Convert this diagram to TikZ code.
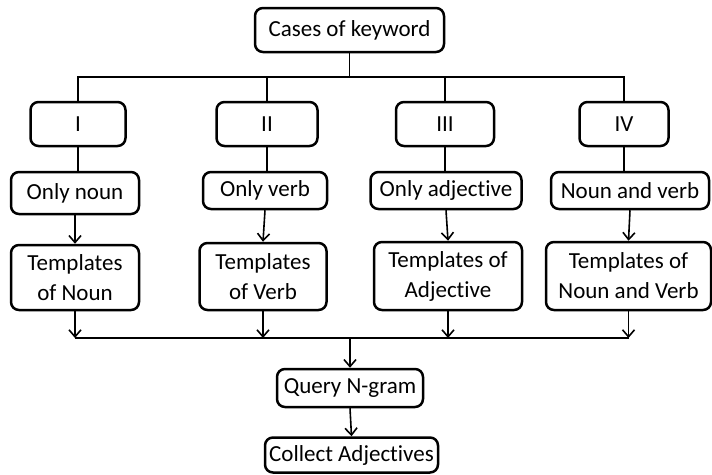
\documentclass[tikz,border=0pt]{standalone}
\usepackage{fontspec}
\setmainfont{Carlito}[Ligatures=NoCommon]
\usetikzlibrary{arrows.meta}
\begin{document}
\begin{tikzpicture}[x=1pt,y=-1pt,
  box/.style={draw, rounded corners=8pt, line width=2.5pt, inner sep=0pt, align=center,
    font=\fontsize{23}{30}\selectfont},
  conn/.style={line width=1.6pt},
  arr/.style={conn, -{Straight Barb[length=7pt,width=12pt]}}]
\useasboundingbox[fill=white] (0,0) rectangle (712,474);

\node[box, minimum width=189pt, minimum height=44pt] (top) at (349.5,30) {Cases of keyword};

\node[box, minimum width=95pt, minimum height=44pt] (r1) at (78,124) {I};
\node[box, minimum width=101pt, minimum height=44pt] (r2) at (267,124) {II};
\node[box, minimum width=98pt, minimum height=44pt] (r3) at (445,124) {III};
\node[box, minimum width=89pt, minimum height=44pt] (r4) at (624,124) {IV};

\node[box, minimum width=128pt, minimum height=42pt] (o1) at (75,193) {Only noun};
\node[box, minimum width=124pt, minimum height=37pt] (o2) at (265,190.5) {Only verb};
\node[box, minimum width=151pt, minimum height=37pt] (o3) at (446,190.5) {Only adjective};
\node[box, minimum width=158pt, minimum height=37pt] (o4) at (630,190.5) {Noun and verb};

\node[box, minimum width=128pt, minimum height=65pt] (t1) at (75,277.5) {Templates\\of Noun};
\node[box, minimum width=127pt, minimum height=67pt] (t2) at (263,276.5) {Templates\\of Verb};
\node[box, minimum width=148pt, minimum height=68pt] (t3) at (448,276) {Templates of\\Adjective};
\node[box, minimum width=165pt, minimum height=68pt] (t4) at (628.5,276) {Templates of\\Noun and Verb};

\node[box, minimum width=146pt, minimum height=38pt] (q) at (350,388) {Query N-gram};
\node[box, minimum width=173pt, minimum height=35pt] (c) at (351.5,455) {Collect Adjectives};

\coordinate (hb) at (0,77);
\coordinate (bus) at (0,338);

% top tree
\draw[conn] (top.south) -- (top.south |- hb);
\draw[conn] (r1.north) -- (r1.north |- hb) -- (r4.north |- hb) -- (r4.north);
\draw[conn] (r2.north) -- (r2.north |- hb);
\draw[conn] (r3.north) -- (r3.north |- hb);

% roman to row 2
\draw[conn] (r1) -- (r1 |- o1.north);
\draw[conn] (r2) -- (r2 |- o2.north);
\draw[conn] (r3) -- (r3 |- o3.north);
\draw[conn] (r4) -- (r4 |- o4.north);

% row 2 to templates
\draw[arr] (o1.south) -- (t1.north);
\draw[arr] (o2.south) -- (t2.north);
\draw[arr] (o3.south) -- (t3.north);
\draw[arr] (o4.south) -- (t4.north);

% templates to bus
\draw[arr] (t1.south) -- (t1.south |- bus);
\draw[arr] (t2.south) -- (t2.south |- bus);
\draw[arr] (t3.south) -- (t3.south |- bus);
\draw[arr] (t4.south) -- (t4.south |- bus);
\draw[conn] (t1.south |- bus) -- (t4.south |- bus);

\draw[arr] (q.north |- bus) -- (q.north);
\draw[arr] (q.south) -- (c.north);
\end{tikzpicture}
\end{document}
